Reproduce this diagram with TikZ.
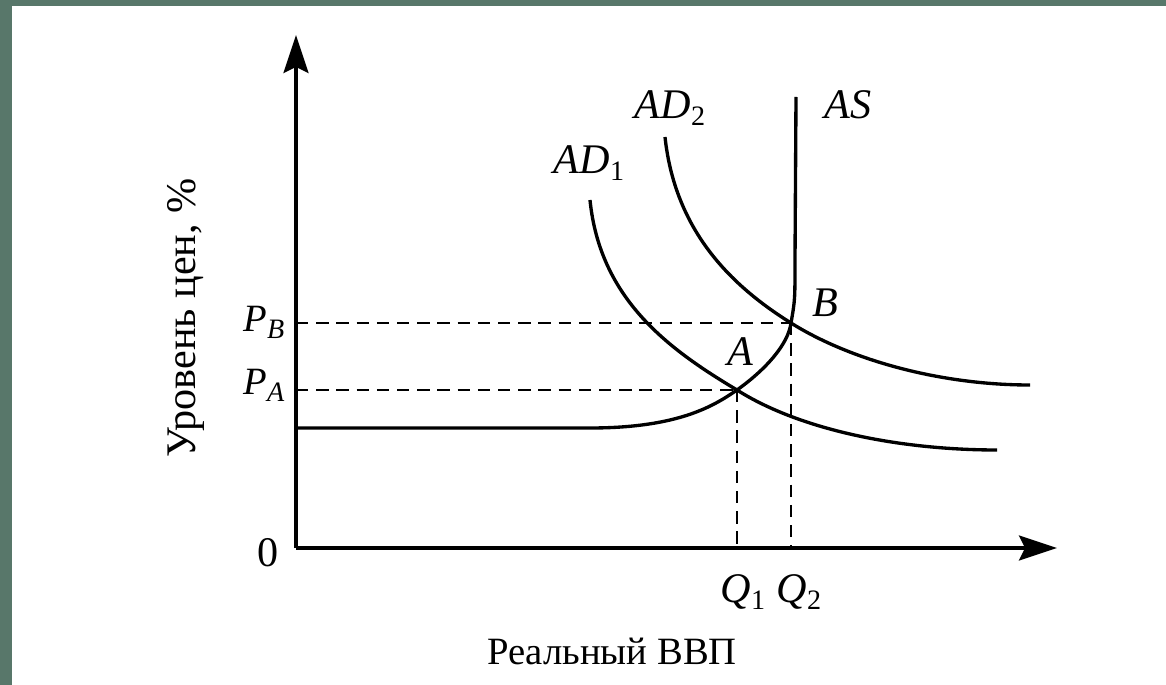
\documentclass[tikz,border=0pt]{standalone}
\usepackage{fontspec}
\setmainfont{Liberation Serif}
\usetikzlibrary{arrows.meta}
\definecolor{frameclr}{HTML}{58776A}
\newcommand{\idx}[1]{\raisebox{-0.4ex}{\fontsize{16}{18}\selectfont#1}}

\begin{document}
\begin{tikzpicture}[x=0.02cm,y=-0.02cm,
  axis/.style={line width=1.9pt,-{Stealth[length=7.6mm,width=5mm,inset=1.2mm]}},
  curve/.style={line width=1.9pt},
  guide/.style={line width=1.5pt,dash pattern=on 7pt off 4.5pt},
  lbl/.style={font=\fontsize{24}{28}\selectfont\itshape,inner sep=0pt},
  plbl/.style={font=\fontsize{22}{26}\selectfont\itshape,inner sep=0pt},
  txt/.style={font=\fontsize{22}{26}\selectfont,inner sep=0pt}]
  \fill[frameclr] (0,0) rectangle (1166,685);
  \fill[white] (12,6) rectangle (1166,685);
  \useasboundingbox (0,0) rectangle (1166,685);

  \coordinate (O) at (296,548);
  \coordinate (ytip) at (296,35);
  \coordinate (xtip) at (1057,548);
  \coordinate (A) at (737,390);
  \coordinate (B) at (791,323);
  \coordinate (asL) at (296,428);
  \coordinate (asT) at (796,97);

  % guides
  \draw[guide] (O |- B) -- (B);
  \draw[guide] (O |- A) -- (A);
  \draw[guide] (B) -- (B |- O);
  \draw[guide] (A) -- (A |- O);

  % axes
  \draw[axis] (O) -- (ytip);
  \draw[axis] (O) -- (xtip);

  % AS
  \draw[curve] (asL) -- (590,428) .. controls (680,428) and (715,405) .. (A)
    .. controls (765,370) and (788,345) .. (B) .. controls (795,300) .. (795,260) -- (asT);
  % AD1, AD2
  \draw[curve] (590,200) .. controls (600,300) and (670,350) .. (A)
    .. controls (800,430) and (900,450) .. (997,450);
  \draw[curve] (665,137) .. controls (675,230) and (730,285) .. (B)
    .. controls (850,360) and (940,385) .. (1030,385);

  \node[lbl] (ad1) at (589,163) {AD\idx{\upshape 1}};
  \node[lbl] (ad2) at (670,108) {AD\idx{\upshape 2}};
  \node[lbl] (as) at (848,105) {AS};
  \node[lbl] (la) at (740,352) {A};
  \node[lbl] (lb) at (825,303) {B};
  \node[plbl] (pb) at (264,322) {P\idx{B}};
  \node[plbl] (pa) at (264,385) {P\idx{A}};
  \node[lbl] (q1) at (743,592) {Q\idx{\upshape 1}};
  \node[lbl] (q2) at (799,592) {Q\idx{\upshape 2}};
  \node[txt,font=\fontsize{24}{28}\selectfont] (zero) at (268,553) {0};
  \node[txt] (xlab) at (612,651) {Реальный ВВП};
  \node[txt,rotate=90,font=\fontsize{24}{28}\selectfont] (ylab) at (186,318) {Уровень цен, \%};
\end{tikzpicture}
\end{document}
